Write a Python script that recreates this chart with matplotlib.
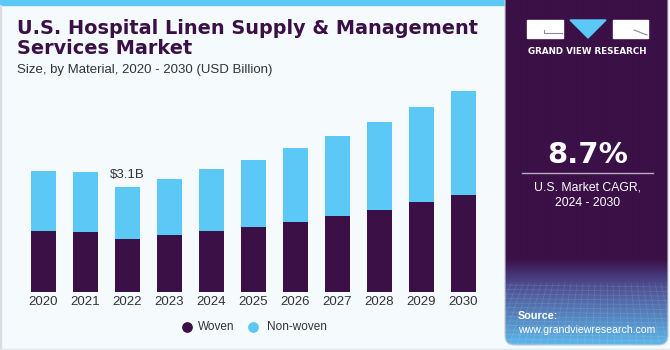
import matplotlib
matplotlib.use("Agg")
import matplotlib.pyplot as plt
import numpy as np
from matplotlib.patches import Rectangle, Polygon, FancyBboxPatch

years = ["2020", "2021", "2022", "2023", "2024", "2025", "2026", "2027", "2028", "2029", "2030"]
woven = [1.80, 1.77, 1.56, 1.68, 1.80, 1.92, 2.06, 2.23, 2.43, 2.65, 2.87]
non_woven = [1.77, 1.77, 1.54, 1.66, 1.83, 1.97, 2.20, 2.38, 2.58, 2.82, 3.06]
annot_year = "2022"
annot_text = "$3.1B"
cagr_text = "8.7%"

W, H = 670, 350
DARK = "#3A1047"
BLUE = "#5BC8F5"
BG = "#F5FAFD"

fig = plt.figure(figsize=(W / 100, H / 100), dpi=100)
fig.patch.set_facecolor(BG)

def fx(px):
    return px / W

def fy(py):
    return 1 - py / H

bg = fig.add_axes([0, 0, 1, 1])
bg.set_xlim(0, W)
bg.set_ylim(H, 0)
bg.axis("off")
bg.add_patch(Rectangle((0, 0), 506, 5, color=BLUE, zorder=1))
bg.add_patch(Rectangle((0, 5), 1.2, H, color="#D8DDE2", zorder=1))
bg.add_patch(Rectangle((0, H - 1.5), W, 1.5, color="#E2E6EA", zorder=1))

# right panel with gradient, clipped to a rounded box
px0, px1, py0, py1 = 505, 668, 0, 345
panel = FancyBboxPatch((px0, py0 - 20), px1 - px0, py1 - py0 + 20,
                       boxstyle="round,pad=0,rounding_size=9", facecolor="none",
                       edgecolor="#C9CDD3", lw=0.8, zorder=6)
bg.add_patch(panel)
ys = np.arange(py0, py1)
stops_y = [0, 258, 285, 345]
stops_c = [np.array([0x3A, 0x10, 0x47]), np.array([0x3A, 0x10, 0x47]),
           np.array([0x4E, 0x4E, 0x92]), np.array([0x5C, 0xB9, 0xEA])]
cols = np.zeros((len(ys), 3))
for k in range(3):
    cols[:, k] = np.interp(ys, stops_y, [c[k] for c in stops_c])
img = np.repeat((cols / 255)[:, None, :], 4, axis=1)
im = bg.imshow(img, extent=(px0, px1, py1, py0), aspect="auto", zorder=2, interpolation="bilinear")
im.set_clip_path(panel)
# faint grid in the source area
for i in range(0, 34):
    xx = px0 + i * 6
    ln, = bg.plot([xx, xx + (i - 17) * 1.5], [283, 345], color="white", alpha=0.10, lw=0.6, zorder=3)
    ln.set_clip_path(panel)
for j in range(0, 14):
    yy = 285 + j * 4.5
    ln, = bg.plot([px0, px1], [yy, yy + 2], color="white", alpha=0.10, lw=0.6, zorder=3)
    ln.set_clip_path(panel)

# logo
bg.add_patch(Rectangle((527, 20), 36, 18, color="white", zorder=4))
bg.plot([544, 544, 562], [30, 33, 33], color="#8A8A9A", lw=0.8, zorder=5)
bg.add_patch(Polygon([[570, 20], [606, 20], [588, 38]], closed=True, color=BLUE, zorder=4))
bg.add_patch(Rectangle((613, 20), 35, 18, color="white", zorder=4))
bg.plot([634, 647], [30, 35], color="#8A8A9A", lw=0.8, zorder=5)
bg.text(587.5, 51, "GRAND VIEW RESEARCH", color="white", fontsize=6.3, fontweight="bold",
        ha="center", va="center", family="DejaVu Sans", zorder=5)

# CAGR
bg.text(587.5, 155, cagr_text, color="white", fontsize=21, fontweight="bold",
        ha="center", va="center", family="DejaVu Sans", zorder=5)
bg.plot([522, 653], [173, 173], color="#B8AEC0", lw=1, zorder=5)
bg.text(587.5, 187, "U.S. Market CAGR,", color="white", fontsize=8.8, ha="center", va="center",
        family="Liberation Sans", zorder=5)
bg.text(587.5, 203, "2024 - 2030", color="white", fontsize=8.8, ha="center", va="center",
        family="Liberation Sans", zorder=5)

# source
bg.text(518, 316, "Source:", color="white", fontsize=7.8, fontweight="bold", ha="left", va="center",
        family="Liberation Sans", zorder=5)
bg.text(518, 330, "www.grandviewresearch.com", color="white", fontsize=7.6, ha="left", va="center",
        family="Liberation Sans", zorder=5)

# titles
bg.text(17, 28, "U.S. Hospital Linen Supply & Management", color=DARK, fontsize=13.9,
        fontweight="bold", ha="left", va="center", family="DejaVu Sans", zorder=5)
bg.text(17, 48, "Services Market", color=DARK, fontsize=13.9,
        fontweight="bold", ha="left", va="center", family="DejaVu Sans", zorder=5)
bg.text(17, 70, "Size, by Material, 2020 - 2030 (USD Billion)", color="#333333", fontsize=9.5,
        ha="left", va="center", family="Liberation Sans", zorder=5)

# legend
bg.scatter([187], [327], s=45, color=DARK, zorder=5)
bg.text(198, 327, "Woven", color="#333333", fontsize=8.5, ha="left", va="center",
        family="Liberation Sans", zorder=5)
bg.scatter([253], [327], s=45, color=BLUE, zorder=5)
bg.text(267, 327, "Non-woven", color="#333333", fontsize=8.5, ha="left", va="center",
        family="Liberation Sans", zorder=5)

# main chart axes
scale = 3.1 / 105.0
ax_left, ax_right, ax_top, ax_bottom = 20, 490, 80, 292
ax = fig.add_axes([fx(ax_left), fy(ax_bottom), fx(ax_right - ax_left), (ax_bottom - ax_top) / H])
ax.set_facecolor("none")
x = np.arange(len(years))
bw = 24.3 / 42
ax.bar(x, woven, width=bw, color=DARK, zorder=2)
ax.bar(x, non_woven, bottom=woven, width=bw, color=BLUE, zorder=2)
ax.set_xlim((ax_left - 43.5) / 42, (ax_right - 43.5) / 42)
ax.set_ylim(0, (ax_bottom - ax_top) * scale)
for s in ax.spines.values():
    s.set_visible(False)
ax.set_yticks([])
ax.set_xticks(x)
ax.set_xticklabels(years, fontsize=9.5, color="#333333", family="Liberation Sans")
ax.tick_params(axis="x", length=0, pad=3)
i = years.index(annot_year)
tot = woven[i] + non_woven[i]
ax.text(i, tot + 0.17, annot_text, ha="center", va="bottom", fontsize=9.5, color="#333333",
        family="Liberation Sans")

fig.savefig("out.png", dpi=100, facecolor=BG)
